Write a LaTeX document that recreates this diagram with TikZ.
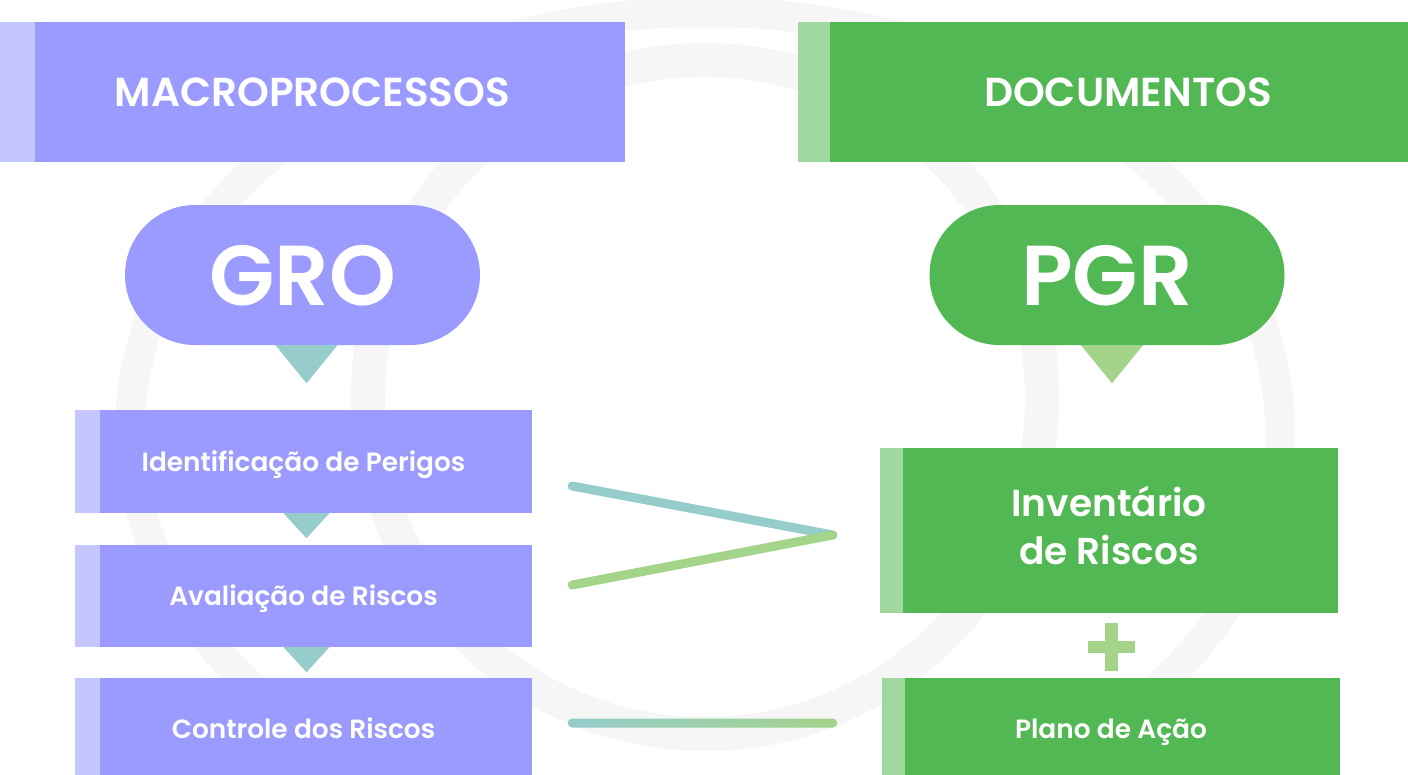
\documentclass[tikz,border=0pt]{standalone}
\usepackage{fontspec}
\setmainfont{Poppins}
\newfontfamily\pmed{Poppins Medium}
\newfontfamily\psemi{Poppins SemiBold}
\usetikzlibrary{calc}
\definecolor{purp}{HTML}{9B9BFF}
\definecolor{purpl}{HTML}{C6C6FF}
\definecolor{grn}{HTML}{52B853}
\definecolor{grnl}{HTML}{A0D8A0}
\definecolor{tealc}{HTML}{96CCCC}
\definecolor{lgrn}{HTML}{A3D48A}
\definecolor{bgring}{HTML}{F6F6F6}
\begin{document}
\begin{tikzpicture}[x=1pt,y=-1pt,
 boxp/.style={rectangle, fill=purp, inner sep=0pt, text=white},
 boxg/.style={rectangle, fill=grn, inner sep=0pt, text=white},
 hfont/.style={font=\psemi\fontsize{40.5}{46}\selectfont, text height=28pt, text depth=0pt},
 bigfont/.style={font=\psemi\fontsize{85}{90}\selectfont, text height=60pt, text depth=0pt},
 lfont/.style={font=\psemi\fontsize{26.4}{31}\selectfont, text height=19pt, text depth=0pt},
 pill/.style={rectangle, rounded corners=70pt, minimum width=355pt, minimum height=140pt, inner sep=0pt, text=white},
 link/.style={line width=9pt, line cap=round},
]
\useasboundingbox (0,0) rectangle (1408,774);
\clip (0,0) rectangle (1408,774);
\fill[white] (0,0) rectangle (1408,774);
% background rings
\draw[bgring, line width=30pt] (705,430) ellipse [x radius=575, y radius=418];
\draw[bgring, line width=34pt] (705,397) circle [radius=337];

% headers
\node[boxp, hfont, minimum width=625pt, minimum height=140pt] (hL) at (312.5,92) {MACROPROCESSOS};
\fill[purpl] (hL.north west) rectangle ([xshift=35pt]hL.south west);
\node[boxg, hfont, minimum width=660pt, minimum height=140pt] (hR) at (1128,92) {DOCUMENTOS};
\fill[grnl] (hR.north west) rectangle ([xshift=32pt]hR.south west);

% pills
\node[pill, fill=purp, bigfont] (gro) at (302.5,275) {GRO};
\node[pill, fill=grn, bigfont] (pgr) at (1107,275) {PGR};
\fill[tealc] ($(gro.south)+(-27,0)$) -- ($(gro.south)+(35,0)$) -- ($(gro.south)+(4,38)$) -- cycle;
\fill[lgrn] ($(pgr.south)+(-26,0)$) -- ($(pgr.south)+(36,0)$) -- ($(pgr.south)+(5,38)$) -- cycle;

% process boxes
\node[boxp, lfont, minimum width=457pt, minimum height=103pt] (b1) at (303.5,461.5) {Identificação de Perigos};
\fill[purpl] (b1.north west) rectangle ([xshift=25pt]b1.south west);
\node[boxp, lfont, minimum width=457pt, minimum height=102pt] (b2) at (303.5,596) {Avaliação de Riscos};
\fill[purpl] (b2.north west) rectangle ([xshift=25pt]b2.south west);
\node[boxp, lfont, minimum width=457pt, minimum height=102pt] (b3) at (303.5,729) {Controle dos Riscos};
\fill[purpl] (b3.north west) rectangle ([xshift=25pt]b3.south west);
\fill[purp] (b3.south west) rectangle ($(b3.south east)+(0,30)$);
\fill[purpl] (b3.south west) rectangle ($(b3.south west)+(25,30)$);
\fill[tealc] ($(b1.south)+(-20,0)$) -- ($(b1.south)+(26,0)$) -- ($(b1.south)+(3,25)$) -- cycle;
\fill[tealc] ($(b2.south)+(-20,0)$) -- ($(b2.south)+(26,0)$) -- ($(b2.south)+(3,25)$) -- cycle;

% document boxes
\node[boxg, minimum width=458pt, minimum height=165pt, font=\psemi\fontsize{37.5}{48}\selectfont] (inv) at (1109,530.5) {\begin{tabular}{@{}c@{}}Inventário\\de Riscos\end{tabular}};
\fill[grnl] (inv.north west) rectangle ([xshift=23pt]inv.south west);
\node[boxg, lfont, minimum width=458pt, minimum height=102pt] (plan) at (1111,729) {Plano de Ação};
\fill[grnl] (plan.north west) rectangle ([xshift=23pt]plan.south west);
\fill[grn] (plan.south west) rectangle ($(plan.south east)+(0,30)$);
\fill[grnl] (plan.south west) rectangle ($(plan.south west)+(23,30)$);

% plus
\fill[lgrn] ($(inv.south)+(-4,10)$) rectangle ($(inv.south)+(9,58)$);
\fill[lgrn] ($(inv.south)+(-21,28)$) rectangle ($(inv.south)+(26,40)$);

% connectors
\coordinate (t1) at ($(b1.east)+(40,24.5)$);
\coordinate (t2) at ($(b2.east)+(40,-11)$);
\coordinate (m) at ($(inv.west)+(-47,4.5)$);
\draw[link, tealc] (t1) -- (m);
\draw[link, lgrn] (t2) -- (m);
\coordinate (t3) at ($(b3.east)+(40,-6)$);
\coordinate (m3) at ($(plan.west)+(-49,-6)$);
\shade[left color=tealc, right color=lgrn, rounded corners=4.5pt] ($(t3)+(-4.5,-4.5)$) rectangle ($(m3)+(4.5,4.5)$);
\end{tikzpicture}
\end{document}
